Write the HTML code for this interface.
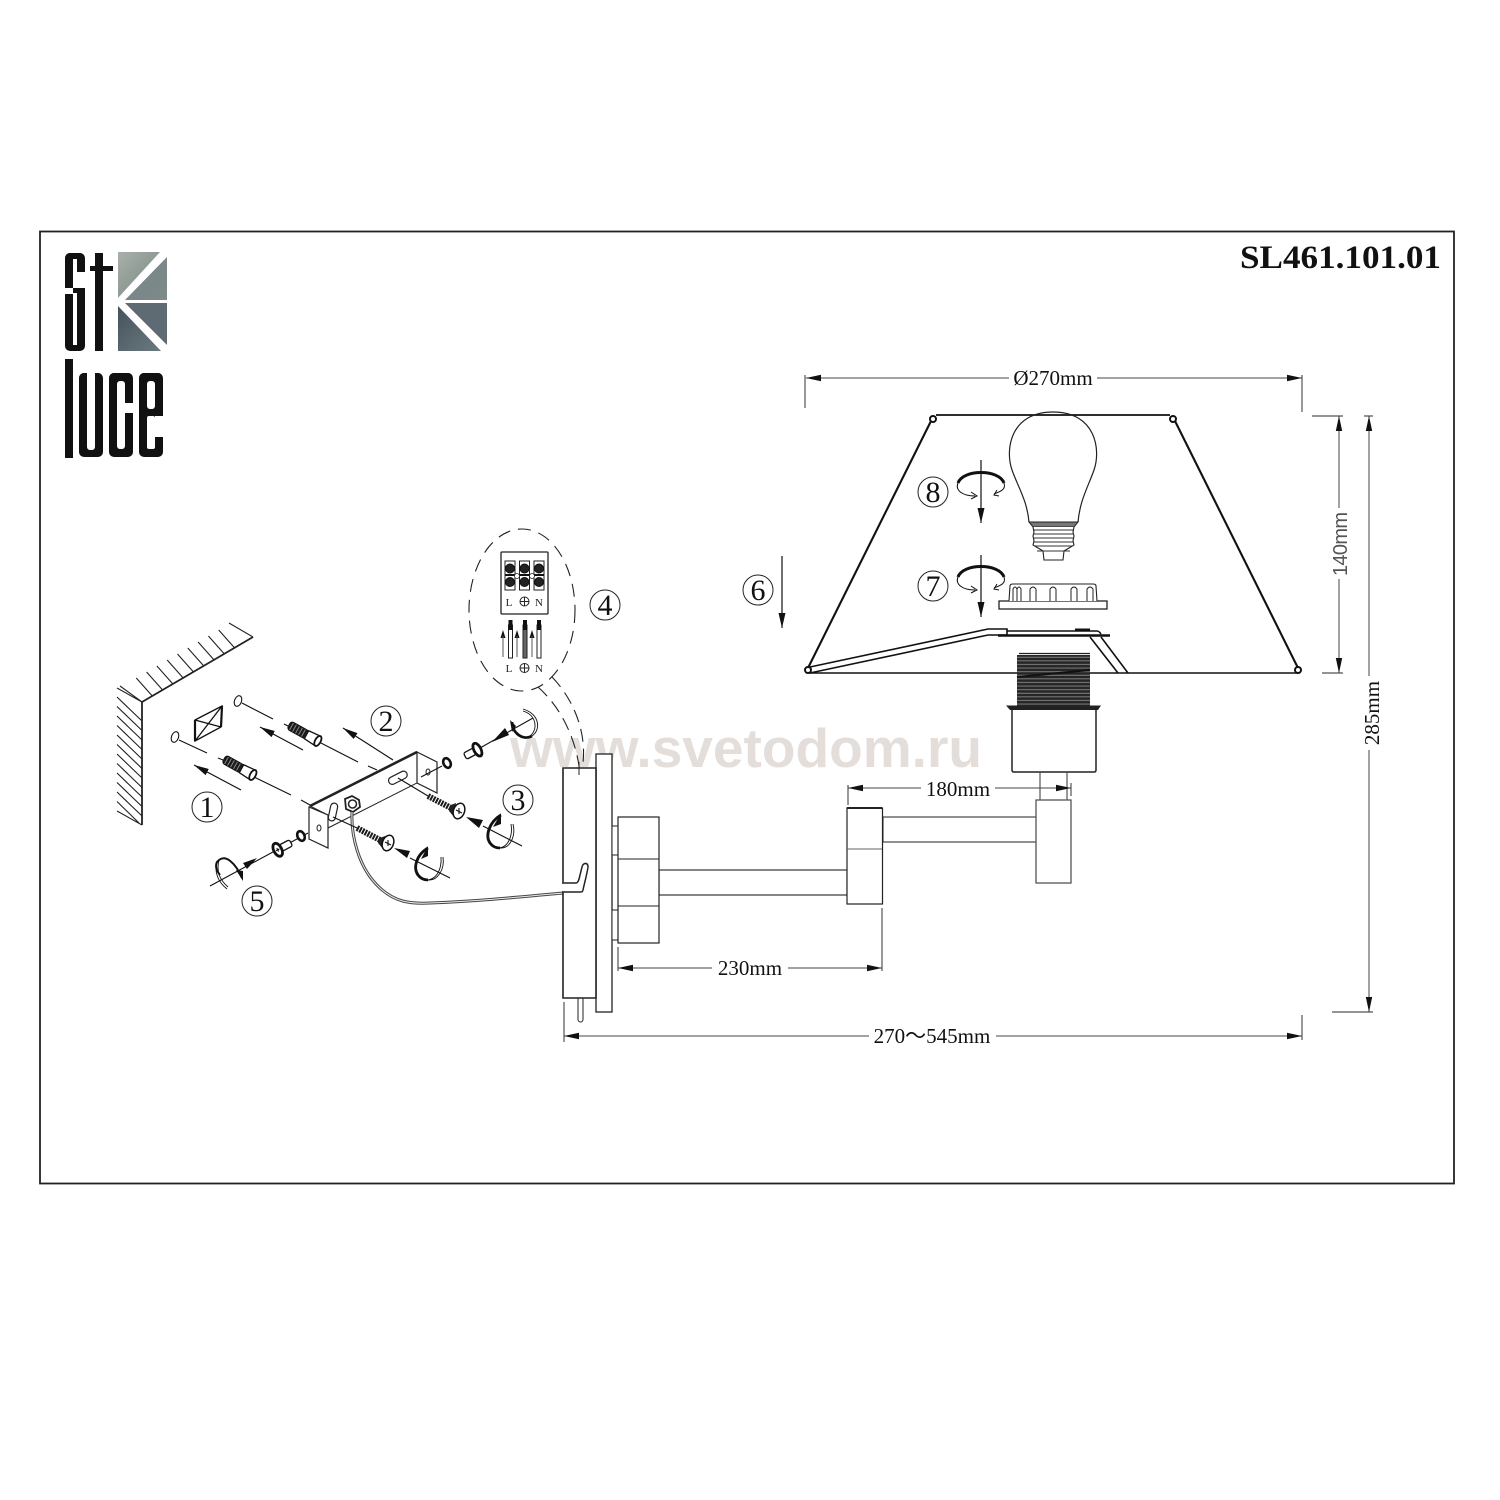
<!DOCTYPE html>
<html><head><meta charset="utf-8"><style>
html,body{margin:0;padding:0;background:#fff}
svg{display:block}
.d{font-family:"Liberation Serif",serif;font-size:21px;fill:#111;text-anchor:middle}
.n{font-family:"Liberation Serif",serif;font-size:30px;fill:#111;text-anchor:middle}
.t{font-family:"Liberation Serif",serif;font-size:11px;fill:#222;text-anchor:middle}
.l{fill:none;stroke:#111;stroke-width:1.2}
.dm{fill:none;stroke:#444;stroke-width:1;marker-start:url(#ar);marker-end:url(#ar)}
.tk{fill:none;stroke:#555;stroke-width:1.2}
.lg{font-family:"Liberation Sans",sans-serif;font-weight:bold;font-size:100px;fill:#111;stroke:#111;stroke-width:24}
</style></head><body>
<svg width="1500" height="1500" viewBox="0 0 1500 1500" xmlns="http://www.w3.org/2000/svg">
<defs>
<marker id="ar" markerUnits="userSpaceOnUse" markerWidth="16" markerHeight="8" refX="15" refY="4" orient="auto-start-reverse"><path d="M0,0.8L15,4L0,7.2Z" fill="#111"/></marker>
<marker id="sm" markerUnits="userSpaceOnUse" markerWidth="16" markerHeight="8" refX="15" refY="4" orient="auto"><path d="M0,0.5L15,4L0,7.5Z" fill="#111"/></marker>
<pattern id="thr" width="6" height="3.6" patternUnits="userSpaceOnUse"><rect width="6" height="3.6" fill="#262626"/><rect y="1.6" width="6" height="0.9" fill="#888"/></pattern>
<pattern id="ank" width="3.4" height="6" patternUnits="userSpaceOnUse"><rect width="3.4" height="6" fill="#1a1a1a"/><rect x="2.4" width="1" height="6" fill="#888"/></pattern>
<linearGradient id="g1" x1="0" y1="0" x2="1" y2="1"><stop offset="0" stop-color="#a9b1aa"/><stop offset="1" stop-color="#76847f"/></linearGradient>
<linearGradient id="g2" x1="0" y1="0" x2="1" y2="1"><stop offset="0" stop-color="#77858a"/><stop offset="1" stop-color="#7c8a88"/></linearGradient>
<linearGradient id="g3" x1="0" y1="0" x2="1" y2="1"><stop offset="0" stop-color="#45525c"/><stop offset="1" stop-color="#6b7a80"/></linearGradient>
<clipPath id="cS"><rect x="65" y="253" width="20" height="98" rx="5"/></clipPath>
<clipPath id="cT"><rect x="95" y="253" width="8" height="98"/><rect x="90" y="266" width="23" height="5"/></clipPath>
<clipPath id="cL"><rect x="65" y="359" width="8" height="99"/></clipPath>
<clipPath id="cU"><rect x="79" y="373" width="24" height="84" rx="5"/></clipPath>
<clipPath id="cC"><rect x="109" y="373" width="24" height="84" rx="5"/></clipPath>
<clipPath id="cE"><rect x="139" y="373" width="24" height="84" rx="5"/></clipPath>
</defs>
<rect width="1500" height="1500" fill="#fff"/>
<text x="510" y="767" font-family="'Liberation Sans',sans-serif" font-weight="bold" font-size="55" fill="#e4dedb" textLength="472" lengthAdjust="spacingAndGlyphs">www.svetodom.ru</text>
<rect x="40" y="231.5" width="1414" height="952" fill="none" stroke="#222" stroke-width="1.8"/>

<!-- logo -->
<g clip-path="url(#cS)"><text class="lg" transform="translate(60,345) scale(.4,1.4)">S</text></g>
<path d="M73,259h4v29h8v-16h-8M73,293h4v52h-4ZM77,272h8v16h-8ZM65,288h8v5h-8Z" fill="none"/>
<rect x="73" y="259" width="4" height="29" fill="#fff"/><rect x="77" y="272" width="8" height="16" fill="#fff"/>
<rect x="73" y="293" width="4" height="52" fill="#fff"/><rect x="65" y="293" width="8" height="0" fill="#fff"/>
<rect x="65" y="288" width="8" height="6" fill="#fff"/>
<g clip-path="url(#cT)"><text class="lg" transform="translate(85,345) scale(1,1.4)">t</text></g>
<polygon points="118,252 160,252 118,298" fill="url(#g1)"/>
<polygon points="167,257 167,300 125,300" fill="url(#g2)"/>
<polygon points="125,303 167,303 167,345" fill="#5e6b73"/>
<polygon points="118,306 118,351 161,351" fill="url(#g3)"/>
<g clip-path="url(#cL)"><text class="lg" transform="translate(58,450) scale(.8,1.4)">l</text></g>
<g clip-path="url(#cU)"><text class="lg" transform="translate(74,445) scale(.5,1.8)">u</text></g>
<rect x="87" y="370" width="8" height="80" rx="3" fill="#fff"/>
<g clip-path="url(#cC)"><text class="lg" transform="translate(104,445) scale(.55,1.8)">c</text></g>
<rect x="117" y="381" width="8" height="68" rx="3" fill="#fff"/><rect x="125" y="403" width="9" height="10" fill="#fff"/>
<g clip-path="url(#cE)"><text class="lg" transform="translate(134,445) scale(.55,1.8)">e</text></g>
<rect x="147" y="381" width="8" height="28" rx="3" fill="#fff"/><rect x="147" y="416" width="8" height="33" rx="2" fill="#fff"/><rect x="155" y="416" width="9" height="21" fill="#fff"/>

<text x="1240" y="268" font-family="'Liberation Serif',serif" font-weight="bold" font-size="33" fill="#111" textLength="201" lengthAdjust="spacingAndGlyphs">SL461.101.01</text>

<!-- wall -->
<g fill="none" stroke="#222" stroke-width="1.100">
<path d="M117,688L142,702M117,697L142,721M117,706.500L142,730.500M117,716L142,740M117,725.500L142,749.500M117,735L142,759M117,744.500L142,768.500M117,754L142,778M117,763.500L142,787.500M117,773L142,797M117,782.500L142,806.500M117,792L142,816M117,801.500L139,823M117,811L142,825"/>
<path d="M120,686L142,702M136.300,678L152.300,696M146.600,672L162.600,690M156.900,666L172.900,684M167.200,660L183.200,678M177.500,654L193.500,672M187.800,648L203.800,666M198.100,642L214.100,660M208.400,636L224.400,654M218.700,630L234.700,648M229,623L253,637"/>
<path d="M142,702L253,637M142,702L142,825" stroke-width="1.800"/>
</g>
<!-- holes & square -->
<g fill="none" stroke="#111" stroke-width="1.100">
<ellipse cx="238" cy="701" rx="3.500" ry="5.500" transform="rotate(20 238 701)"/>
<ellipse cx="175" cy="737" rx="3.500" ry="5.500" transform="rotate(20 175 737)"/>
<path d="M242,703L273,719M284,724L288,726M319,742L358,762M368,766L377,770M179,740L207,753M218,758L223,760M254,777L291,795M301,800L310,805"/>
<path d="M195,720L222,706L221,727L195,741ZM195,720L221,727M222,706L195,741" stroke-width="1.300"/>
<path d="M195,720L195,741M222,706L221,727" stroke-width="2.200"/>
</g>
<path d="M303,750L260,727" class="l" marker-end="url(#sm)"/>
<path d="M241,790L194,765" class="l" marker-end="url(#sm)"/>
<path d="M393,760L343,728" class="l" marker-end="url(#sm)"/>
<!-- anchors -->
<g transform="translate(289,725) rotate(29)">
<rect x="0" y="-4.500" width="21" height="9" rx="3" fill="url(#ank)" stroke="#111"/>
<path d="M20,-4.500L33,-5.500V5.500L20,4.500Z" fill="#fff" stroke="#111" stroke-width="1.300"/>
<ellipse cx="33" cy="0" rx="2.800" ry="5.500" fill="#fff" stroke="#111" stroke-width="1.800"/>
</g>
<g transform="translate(224,759) rotate(29)">
<rect x="0" y="-4.500" width="21" height="9" rx="3" fill="url(#ank)" stroke="#111"/>
<path d="M20,-4.500L33,-5.500V5.500L20,4.500Z" fill="#fff" stroke="#111" stroke-width="1.300"/>
<ellipse cx="33" cy="0" rx="2.800" ry="5.500" fill="#fff" stroke="#111" stroke-width="1.800"/>
</g>
<!-- bracket -->
<g stroke="#222" fill="#fff">
<path d="M310,806L417,752L417,783L328,828L328,815Z" stroke-width="1"/>
<path d="M310,806L417,752" stroke-width="2.600" fill="none"/>
<path d="M309,807L328,815L328,848L309,839Z" stroke-width="1.200"/>
<path d="M417,752L437,762L437,793L417,783Z" stroke-width="1.200"/>
<ellipse cx="319" cy="828" rx="2" ry="3" stroke-width="1"/>
<ellipse cx="428" cy="772" rx="2" ry="3" stroke-width="1"/>
<rect x="388" y="774" width="20" height="7.500" rx="3.700" transform="rotate(-27 398 778)" stroke-width="1.200"/>
<rect x="329.500" y="803" width="7" height="18" rx="3.500" transform="rotate(12 333 812)" stroke-width="1.200"/>
<path d="M345,799L352,796L359,800L360,807L353,812L346,809Z" stroke-width="1.800"/>
<circle cx="352.500" cy="804" r="4" stroke-width="1.500"/>
</g>
<!-- wire -->
<path d="M352,812C351,835 358,868 380,888C395,902 410,904 430,903C480,901 520,897 563,893" fill="none" stroke="#444" stroke-width="3"/>
<path d="M352,812C351,835 358,868 380,888C395,902 410,904 430,903C480,901 520,897 563,893" fill="none" stroke="#eee" stroke-width="1"/>
<!-- screws -->
<g fill="none" stroke="#111" stroke-width="1.100">
<path d="M333,817L357,828M398,778L428,796M410,858L450,878M483,826L522,846M421,777L442,766M480,748L533,718M308,833L210,886"/>
<path d="M357,828L382,841" stroke="#1a1a1a" stroke-width="6" stroke-dasharray="2 1"/>
<path d="M428,796L453,809" stroke="#1a1a1a" stroke-width="6" stroke-dasharray="2 1"/>
<path d="M380,838L385,836L383,849L378,843Z M451,805L456,803L454,817L449,811Z" fill="#222" stroke="none"/>
<ellipse cx="388" cy="843" rx="5.500" ry="8" fill="#fff" stroke-width="1.500" transform="rotate(20 388 843)"/>
<ellipse cx="459" cy="811" rx="5.500" ry="8" fill="#fff" stroke-width="1.500" transform="rotate(20 459 811)"/>
<path d="M385,842L391,845M388,840L388,846M456,810L462,813M459,808L459,814"/>
<ellipse cx="447" cy="763" rx="3.500" ry="5" stroke-width="2.600" fill="#fff" transform="rotate(-25 447 763)"/>
<ellipse cx="301" cy="836" rx="3.500" ry="5" stroke-width="2.600" fill="#fff" transform="rotate(-25 301 836)"/>
<g transform="translate(473,752) rotate(-28)"><rect x="-9" y="-3.500" width="12" height="7" rx="2" fill="#fff" stroke-width="1.300"/><ellipse cx="5" cy="0" rx="3.500" ry="7" fill="#fff" stroke-width="2.800"/></g>
<g transform="translate(283,847) rotate(-28)"><rect x="-3" y="-3.500" width="12" height="7" rx="2" fill="#fff" stroke-width="1.300"/><ellipse cx="-6" cy="0" rx="4" ry="7" fill="#fff" stroke-width="2.800"/><path d="M-8,0h4M-6,-2v4"/></g>
</g>
<g fill="#111">
<path d="M394,848L410,851L407,858Z"/>
<path d="M466,817L483,820L479,828Z"/>
<path d="M492,742L505,728L509,735Z"/>
<path d="M257,858L243,863L247,869Z"/>
</g>
<!-- rotation arrows -->
<g fill="none" stroke="#111">
<path d="M428,848C416,855 413,868 418,875C421,879 425,880 428,880" stroke-width="2.800"/>
<path d="M428,880C437,881 445,870 443,857M426,880C436,880 442,870 441,857" stroke-width="0.900"/>
<path d="M501,815C489,822 485,836 490,843C493,847 496,848 500,848" stroke-width="2.800"/>
<path d="M500,848C510,849 516,836 513,824M498,848C508,848 513,836 511,824" stroke-width="0.900"/>
<path d="M512,722C512,733 523,741 532,736" stroke-width="2.800"/>
<path d="M532,736C541,730 540,714 523,709M530,736C538,730 537,715 523,711" stroke-width="0.900"/>
<path d="M242,878C236,864 225,852 217,862C215,866 216,870 220,875" stroke-width="2"/>
<path d="M217,862C214,872 218,882 227,889M219,860C216,872 220,880 228,887" stroke-width="0.900"/>
</g>
<g fill="#111"><path d="M428,846L421,859L428,856Z"/><path d="M501,813L493,827L501,824Z"/><path d="M510,720L512,732L516,726Z"/><path d="M243,881L236,870L243,871Z"/></g>

<!-- terminal callout -->
<ellipse cx="522" cy="610" rx="53" ry="81" fill="none" stroke="#222" stroke-width="1.100" stroke-dasharray="13 8"/>
<path d="M538,687C555,702 575,730 580,773" fill="none" stroke="#222" stroke-width="1.100" stroke-dasharray="13 7"/>
<path d="M552,677C565,690 590,725 582,770" fill="none" stroke="#222" stroke-width="1.100" stroke-dasharray="13 7"/>
<rect x="501" y="552" width="47" height="62" rx="1" fill="#fff" stroke="#222" stroke-width="1.300"/>
<g fill="#fff" stroke="#222" stroke-width="1">
<rect x="505" y="561" width="10" height="29"/><rect x="519.500" y="561" width="10" height="29"/><rect x="534" y="561" width="10" height="29"/>
</g>
<path d="M505,575L544,575" stroke="#111" stroke-width="2"/>
<g fill="#222" stroke="#111"><circle cx="510" cy="568.500" r="4.500"/><circle cx="524.500" cy="568.500" r="4.500"/><circle cx="539" cy="568.500" r="4.500"/><circle cx="510" cy="582" r="4.500"/><circle cx="524.500" cy="582" r="4.500"/><circle cx="539" cy="582" r="4.500"/></g>
<circle cx="517" cy="576" r="2.500" fill="#fff" stroke="#222" stroke-width=".8"/><circle cx="532" cy="576" r="2.500" fill="#fff" stroke="#222" stroke-width=".8"/>
<text class="t" x="509" y="606">L</text><text class="t" x="539" y="606">N</text><text class="t" x="509" y="672">L</text><text class="t" x="539" y="672">N</text>
<g fill="none" stroke="#222" stroke-width="1"><circle cx="524.500" cy="601.500" r="4.500"/><path d="M520,601.500h9M524.500,597v9"/><circle cx="524.500" cy="668" r="4.500"/><path d="M520,668h9M524.500,663.500v9"/></g>
<g stroke="#222" fill="#fff" stroke-width="1"><rect x="508.500" y="625" width="4" height="33"/><rect x="523" y="625" width="4" height="33" fill="#666"/><rect x="537" y="625" width="4" height="33"/></g>
<g fill="#111"><rect x="508.500" y="620" width="4" height="10"/><rect x="523" y="620" width="4" height="10"/><rect x="537" y="620" width="4" height="10"/>
<path d="M503,630l-2.500,8h5ZM517,630l-2.500,8h5ZM532,630l-2.500,8h5Z"/></g>
<path d="M503,636V657M517,636V657M532,636V657" stroke="#555" stroke-width="1"/>

<!-- wall plate and arm -->
<g fill="#fff" stroke="#222" stroke-width="1.300">
<rect x="578" y="996" width="5" height="26" rx="2.500" stroke-width="1"/>
<rect x="596" y="754" width="16" height="258"/>
<path d="M563,768H596V998H563Z" stroke-width="1.600"/>
<rect x="612" y="826" width="6" height="29" stroke-width="1"/>
<rect x="612" y="910" width="6" height="30" stroke-width="1"/>
<rect x="659" y="870" width="188" height="25" stroke-width="1.100"/>
<rect x="883" y="817" width="153" height="25" stroke-width="1"/>
<rect x="618" y="817" width="41" height="126" stroke-width="1.200"/>
<path d="M618,859H659M618,906H659" fill="none" stroke-width="1.100"/>
<rect x="847" y="808" width="35.500" height="96" stroke-width="1.200"/>
<path d="M847,808H882" stroke-width="2" fill="none"/>
<path d="M847,849H882" fill="none" stroke="#666" stroke-width="1"/>
</g>
<path d="M563,883H576C578,883 579,880 580,875L582,867C583,863 587,862 588,866C588.500,868 584,885 583,890C582.500,892 582,892 580,892H563" fill="#fff" stroke="#222" stroke-width="1.500"/>
<path d="M563,884V891" stroke="#fff" stroke-width="2.500"/>
<path d="M579,762V775" stroke="#222" stroke-width="1"/>

<!-- shade -->
<g fill="none" stroke="#111">
<path d="M936,415H1170" stroke-width="1.800"/>
<path d="M933,417L808,668M1173,417L1298,668" stroke-width="2.100"/>
<path d="M808,673H1298" stroke-width="1.600"/>
<path d="M810,667L988,629H1007V635M810,673L988,635H1007" stroke-width="1.600"/>
<path d="M1007,631H1097Q1099,631 1101,634" stroke-width="1.600"/>
<path d="M998,635.500H1110" stroke-width="2.400"/>
<path d="M1075,629.500H1090" stroke-width="2"/>
<path d="M1090,637L1118,673M1101,637L1128,673" stroke-width="1.600"/>
</g>
<g fill="#fff" stroke="#111" stroke-width="2"><circle cx="933" cy="419" r="3"/><circle cx="1173" cy="419" r="3"/><circle cx="808" cy="670" r="3"/><circle cx="1298" cy="670" r="3"/></g>
<!-- bulb -->
<path d="M1029,522C1027,500 1018,487 1012,470C1005,450 1010,412 1053,412C1096,412 1101,450 1094,470C1088,487 1080,500 1078,522" fill="none" stroke="#222" stroke-width="1.200"/>
<path d="M1029,522H1078L1074,527H1033Z" fill="#777" stroke="#222"/>
<path d="M1033,527L1034,532L1033,536L1034,541L1033,545L1043,551L1044,560H1063L1064,551L1074,545L1073,541L1074,536L1073,532L1074,527" fill="#fff" stroke="#222" stroke-width="1.100"/>
<path d="M1034,530H1073M1034,534H1073M1034,538H1073M1034,542H1073M1034,546H1073M1037,551H1070" stroke="#333" stroke-width="1"/>
<!-- socket ring -->
<rect x="999" y="601" width="108" height="8" fill="#fff" stroke="#222" stroke-width="1.300"/>
<path d="M1009,601L1010,586Q1010,584 1013,584H1093Q1096,584 1096,586L1097,601" fill="#fff" stroke="#222" stroke-width="1.100"/>
<path d="M1013,601V589Q1015,585 1017,589V601M1017,601V589Q1019,585 1021,589V601M1030,601V589Q1033,585 1036,589V601M1050,601V589Q1053,585 1056,589V601M1071,601V589Q1074,585 1077,589V601M1087,601V589Q1090,585 1093,589V601" fill="none" stroke="#222" stroke-width="1"/>
<!-- threaded socket -->
<rect x="1017" y="655" width="73" height="51" fill="url(#thr)"/>
<path d="M1019,653.500H1090" stroke="#222" stroke-width="1.300"/><path d="M1017,677L1090,670" stroke="#111" stroke-width="2"/>
<path d="M1006,705.500H1101L1098,710H1010Z" fill="#222"/>
<path d="M1012,710V770Q1012,772 1014,772H1094Q1096,772 1096,770V710" fill="#fff" stroke="#222" stroke-width="1.500"/>
<path d="M1040,772V800M1067,772V800" stroke="#444" stroke-width="1.100"/>
<rect x="1036" y="800" width="35" height="83" fill="#fff" stroke="#555" stroke-width="1.300"/>

<!-- dimensions -->
<path class="tk" d="M805,375V408M1302,375V412M1312,416H1343M1322,673H1343M1364,416H1373M1332,1012H1373M1302,1015V1040M564,1002V1042M618,947V971M882,908V971M848,785V805M1071,783V796"/>
<path d="M806,378H1302" class="dm"/>
<path d="M1339,416V673" class="dm"/>
<path d="M1369,416V1012" class="dm"/>
<path d="M618,968H882" class="dm"/>
<path d="M848,788H1071" class="dm"/>
<path d="M564,1036H1302" class="dm"/>
<g fill="#fff"><rect x="1009" y="368" width="88" height="20"/><rect x="1329" y="508" width="20" height="71"/><rect x="1359" y="676" width="20" height="74"/><rect x="712" y="958" width="76" height="20"/><rect x="921" y="778" width="74" height="20"/><rect x="869" y="1026" width="127" height="20"/></g>
<text class="d" x="1053" y="385">Ø270mm</text>
<text class="d" x="750" y="975">230mm</text>
<text class="d" x="958" y="796">180mm</text>
<text class="d" x="932" y="1043" font-family="'Liberation Serif','Noto Serif CJK SC',serif">270～545mm</text>
<text class="d" transform="translate(1379,713) rotate(-90)">285mm</text>
<text transform="translate(1347,576) rotate(-90)" font-family="'Liberation Sans',sans-serif" font-size="20" fill="#555" textLength="64" lengthAdjust="spacing">140mm</text>

<!-- 6/7/8 arrows -->
<path d="M782,556V628" class="l" marker-end="url(#sm)"/>
<path d="M981,460V523" class="l" marker-end="url(#sm)"/>
<path d="M981,555V617" class="l" marker-end="url(#sm)"/>
<g fill="none" stroke="#111">
<path d="M958,483C963,469 999,469 1004,483" stroke-width="3"/>
<path d="M958,483C955,490 962,496 975,496M1004,483C1006,489 1002,491 994,494" stroke-width="1"/>
<path d="M971,492L977,496L971,499M997,490L994,495L999,496" stroke-width="1"/>
<path d="M958,577C963,563 999,563 1004,577" stroke-width="3"/>
<path d="M958,577C955,584 962,590 975,590M1004,577C1006,583 1002,585 994,588" stroke-width="1"/>
<path d="M971,586L977,590L971,593M997,584L994,589L999,590" stroke-width="1"/>
</g>
<!-- circled numbers -->
<g fill="none" stroke="#222" stroke-width="1"><circle cx="207" cy="807" r="15"/><circle cx="386" cy="721" r="15"/><circle cx="518" cy="800" r="15"/><circle cx="605" cy="605" r="15"/><circle cx="257" cy="901" r="15"/><circle cx="758" cy="590" r="15"/><circle cx="933" cy="586" r="15"/><circle cx="933" cy="492" r="15"/></g>
<text class="n" x="207" y="817">1</text><text class="n" x="386" y="731">2</text><text class="n" x="518" y="810">3</text><text class="n" x="605" y="615">4</text><text class="n" x="257" y="911">5</text><text class="n" x="758" y="600">6</text><text class="n" x="933" y="596">7</text><text class="n" x="933" y="502">8</text>
</svg>
</body></html>
